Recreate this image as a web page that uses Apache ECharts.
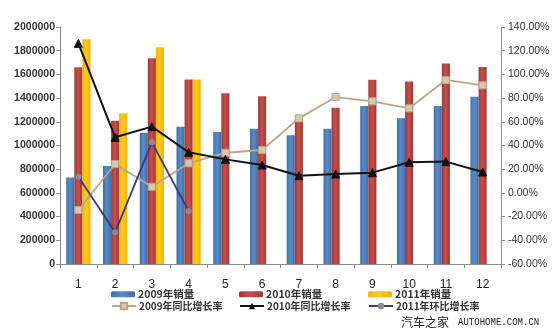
<!DOCTYPE html>
<html>
<head>
<meta charset="utf-8">
<script src="https://cdn.jsdelivr.net/npm/echarts@6/dist/echarts.min.js"></script>
<style>
  html, body { margin: 0; padding: 0; background: #fff; }
  #chart { width: 555px; height: 331px; }
</style>
</head>
<body>
<div id="chart"></div>
<script>
// Monthly sales (units) and growth rates (%)
const months = ['1', '2', '3', '4', '5', '6', '7', '8', '9', '10', '11', '12'];
const sales2009 = [730000, 827000, 1108000, 1159000, 1114000, 1142000, 1086000, 1142000, 1333000, 1229000, 1333000, 1412000];
const sales2010 = [1660000, 1209000, 1736000, 1558000, 1440000, 1415000, 1220000, 1319000, 1555000, 1541000, 1693000, 1662000];
const sales2011 = [1896000, 1272000, 1829000, 1558000, null, null, null, null, null, null, null, null];
const yoy2009 = [-14.4, 24.4, 5.2, 25.0, 33.9, 36.2, 62.9, 80.9, 77.3, 71.4, 95.3, 90.8];
const yoy2010 = [126.2, 46.9, 55.9, 34.3, 28.3, 23.5, 14.5, 15.9, 17.1, 25.8, 26.4, 17.6];
const mom2011 = [13.7, -33.3, 42.7, -15.3, null, null, null, null, null, null, null, null];

const names = {
  s09: '2009年销量', s10: '2010年销量', s11: '2011年销量',
  y09: '2009年同比增长率', y10: '2010年同比增长率', m11: '2011年环比增长率'
};

const FONT = '"Liberation Sans", "Noto Sans CJK SC", sans-serif';
const CJK = '"Noto Sans CJK SC", "Liberation Sans", sans-serif';

function barFill(edge, mid) {
  return new echarts.graphic.LinearGradient(0, 0, 1, 0, [
    { offset: 0, color: edge },
    { offset: 0.45, color: mid },
    { offset: 1, color: edge }
  ]);
}

const chart = echarts.init(document.getElementById('chart'), null, { renderer: 'canvas' });

function legendAt(name, left, top, iconW, iconH, size) {
  return {
    data: [name], left: left, top: top, orient: 'horizontal',
    itemWidth: iconW, itemHeight: iconH, itemGap: 0, padding: 0,
    selectedMode: false,
    textStyle: { fontFamily: CJK, fontSize: size, fontWeight: 'bold', color: '#333', padding: [0, 0, 0, -2] }
  };
}

const option = {
  animation: false,
  backgroundColor: '#fff',
  grid: { left: 60, right: 54, top: 27, bottom: 67, containLabel: false },
  legend: [
    legendAt(names.s09, 111, 289, 24, 6, 10.5),
    legendAt(names.s10, 239, 289, 24, 6, 10.5),
    legendAt(names.s11, 368, 289, 24, 6, 10.5),
    legendAt(names.y09, 111, 301, 24, 8, 10),
    legendAt(names.y10, 239, 301, 24, 8, 10),
    legendAt(names.m11, 368, 301, 24, 8, 10)
  ],
  xAxis: {
    type: 'category',
    data: months,
    axisLine: { lineStyle: { color: '#8a8a8a', width: 1 } },
    axisTick: { show: true, length: 4, alignWithLabel: false, lineStyle: { color: '#8a8a8a' } },
    axisLabel: { fontFamily: FONT, fontSize: 12, color: '#222', margin: 15 }
  },
  yAxis: [
    {
      type: 'value', min: 0, max: 2000000, interval: 200000,
      axisLine: { show: true, lineStyle: { color: '#8a8a8a' } },
      axisTick: { show: true, length: 4, lineStyle: { color: '#8a8a8a' } },
      splitLine: { show: false },
      axisLabel: {
        fontFamily: FONT, fontSize: 10.5, fontWeight: 'bold', color: '#333', margin: 5,
        formatter: v => String(v)
      }
    },
    {
      type: 'value', min: -60, max: 140, interval: 20, position: 'right',
      axisLine: { show: true, lineStyle: { color: '#8a8a8a' } },
      axisTick: { show: true, length: 4, lineStyle: { color: '#8a8a8a' } },
      splitLine: { show: false },
      axisLabel: {
        fontFamily: FONT, fontSize: 10.5, color: '#333', margin: 7,
        formatter: v => v.toFixed(2) + '%'
      }
    }
  ],
  series: [
    {
      name: names.s09, type: 'bar', data: sales2009, yAxisIndex: 0,
      barGap: '0%', barCategoryGap: '34%',
      itemStyle: { color: barFill('#3f6fa8', '#5b8bc8') }
    },
    {
      name: names.s10, type: 'bar', data: sales2010, yAxisIndex: 0,
      barGap: '0%', barCategoryGap: '34%',
      itemStyle: { color: barFill('#a23835', '#c4504c') }
    },
    {
      name: names.s11, type: 'bar', data: sales2011, yAxisIndex: 0,
      barGap: '0%', barCategoryGap: '34%',
      itemStyle: { color: barFill('#f0b400', '#ffcb1f') }
    },
    {
      name: names.y09, type: 'line', data: yoy2009, yAxisIndex: 1,
      symbol: 'rect', symbolSize: 7,
      lineStyle: { color: '#b8a68a', width: 1.8 },
      itemStyle: { color: '#d8c8b0', borderColor: '#b8a68a', borderWidth: 1 }
    },
    {
      name: names.m11, type: 'line', data: mom2011, yAxisIndex: 1,
      symbol: 'circle', symbolSize: 6,
      lineStyle: { color: '#3c3a7a', width: 1.8 },
      itemStyle: { color: '#8c8c94', borderColor: '#8c8c94', borderWidth: 0 }
    },
    {
      name: names.y10, type: 'line', data: yoy2010, yAxisIndex: 1,
      symbol: 'triangle', symbolSize: 8,
      lineStyle: { color: '#111', width: 2 },
      itemStyle: { color: '#111', borderColor: '#111' }
    }
  ],
  graphic: [
    {
      type: 'text', left: 401, top: 316,
      style: { text: '汽车之家', font: '12px "Noto Sans CJK SC", sans-serif', fill: '#222' }
    },
    {
      type: 'text', x: 458, y: 317, scaleX: 0.86,
      style: { text: 'AUTOHOME.COM.CN', font: '10.5px "Liberation Mono", "DejaVu Sans Mono", monospace', fill: '#222' }
    }
  ]
};

chart.setOption(option);
</script>
</body>
</html>
